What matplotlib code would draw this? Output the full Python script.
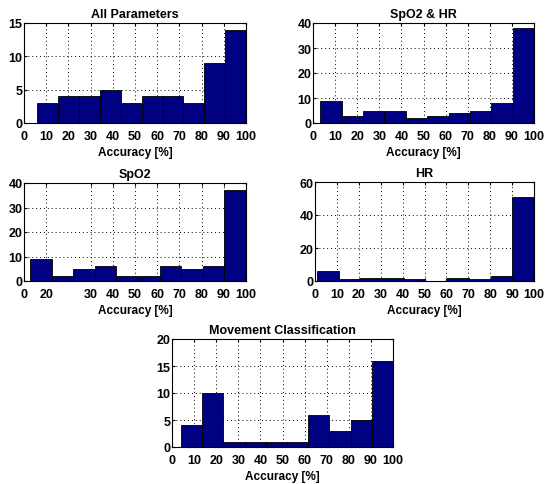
import numpy as np
from matplotlib import pyplot

pyplot.rcParams['font.family'] = ['Liberation Sans', 'DejaVu Sans']
pyplot.rcParams['font.weight'] = 'bold'
pyplot.rcParams['font.size'] = 9

# histogram counts (10 bins each), with bin range lo..hi
all_counts = [3, 4, 4, 5, 3, 4, 4, 3, 9, 14]
all_range = (6.0, 100.0)

spo2hr_counts = [9, 3, 5, 5, 2, 3, 4, 5, 8, 38]
spo2hr_range = (3.3, 100.0)

spo2_counts = [9, 2, 5, 6, 2, 2, 6, 5, 6, 37]
spo2_range = (2.7, 100.0)

hr_counts = [6, 1, 2, 2, 1, 0, 2, 1, 3, 51]
hr_range = (0.9, 100.0)

move_counts = [4, 10, 1, 1, 1, 1, 6, 3, 5, 16]
move_range = (4.1, 100.0)

xtick_pos = [0, 10, 20, 30, 40, 50, 60, 70, 80, 90, 100]
xtick_lab = ['0', '10', '20', '30', '40', '50', '60', '70', '80', '90', '100']
# the SpO2 panel has an odd labelling in the original
spo2_xtick_pos = [0, 10, 30, 40, 50, 60, 70, 80, 90, 100]
spo2_xtick_lab = ['0', '20', '30', '40', '50', '60', '70', '80', '90', '100']

W, H = 545, 485
fig = pyplot.figure(figsize=(W / 100, H / 100), dpi=100)


def add_axes(x0, y0, x1, y1):
    # pixel box -> figure fraction
    return fig.add_axes([x0 / W, 1 - y1 / H, (x1 - x0) / W, (y1 - y0) / H])


def hist_panel(ax, counts, rng, title, ymax, ystep, xt=xtick_pos, xl=xtick_lab):
    edges = np.linspace(rng[0], rng[1], len(counts) + 1)
    ax.bar(edges[:-1], counts, width=np.diff(edges), align='edge',
           color='#000082', edgecolor='black', linewidth=0.6, zorder=2)
    ax.set_xlim(0, 100)
    ax.set_ylim(0, ymax)
    ax.set_xticks(xt)
    ax.set_xticklabels(xl)
    ax.set_yticks(np.arange(0, ymax + 1, ystep))
    ax.grid(True, color='black', linestyle=(0, (1, 3)), linewidth=0.7, zorder=0)
    ax.set_axisbelow(True)
    ax.tick_params(direction='in', length=2, labelsize=9, top=True, right=True)
    ax.tick_params(axis='x', pad=5)
    ax.tick_params(axis='y', pad=1)
    for s in ax.spines.values():
        s.set_linewidth(0.8)
    ax.set_title(title, fontweight='bold', fontsize=9, pad=4)
    ax.set_xlabel('Accuracy [%]', fontweight='bold', fontsize=8.5, labelpad=3)


ax1 = add_axes(24, 24, 246, 124)
hist_panel(ax1, all_counts, all_range, 'All Parameters', 15, 5)

ax2 = add_axes(313, 24, 534, 124)
hist_panel(ax2, spo2hr_counts, spo2hr_range, 'SpO2 & HR', 40, 10)

ax3 = add_axes(24, 184, 246, 282)
hist_panel(ax3, spo2_counts, spo2_range, 'SpO2', 40, 10, spo2_xtick_pos, spo2_xtick_lab)

ax4 = add_axes(315, 183, 534, 282)
hist_panel(ax4, hr_counts, hr_range, 'HR', 60, 20)

ax5 = add_axes(172, 340, 393, 448)
hist_panel(ax5, move_counts, move_range, 'Movement Classification', 20, 5)

pyplot.savefig('out.png', dpi=100)
